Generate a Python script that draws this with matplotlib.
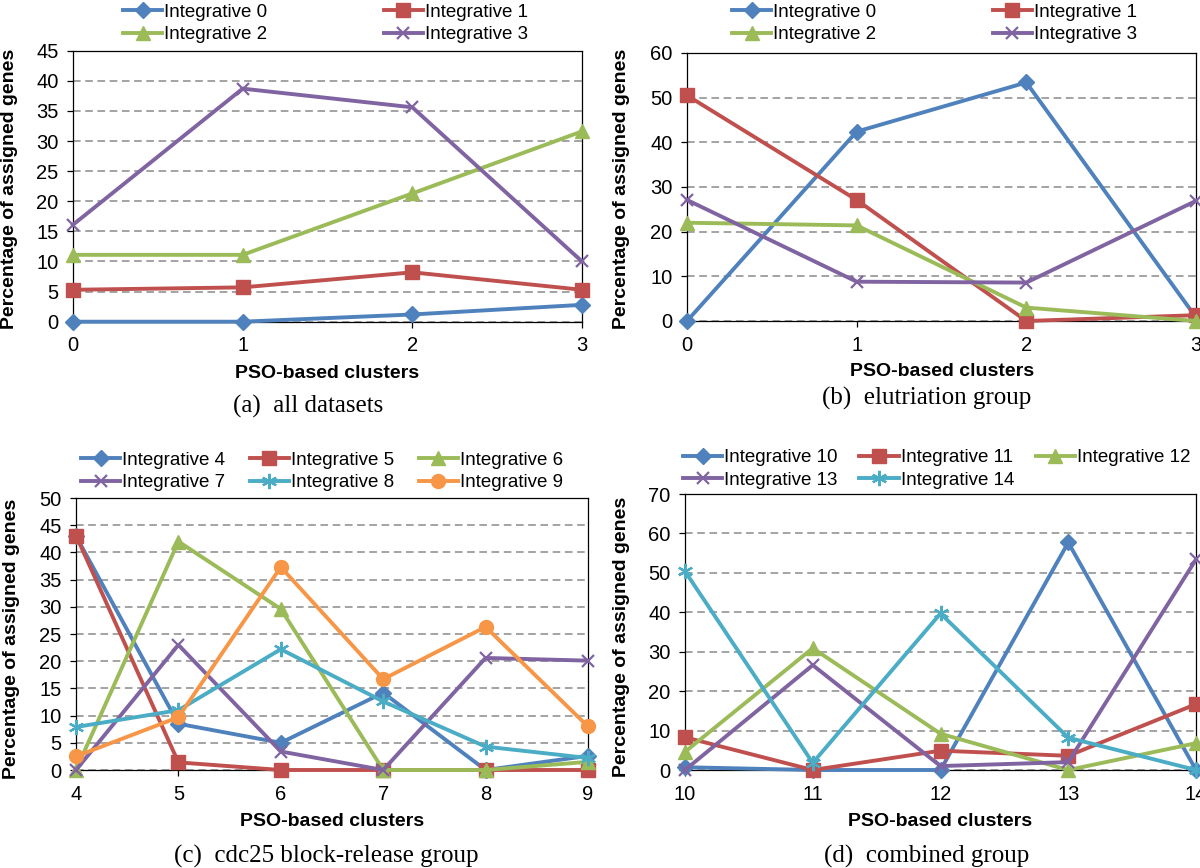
import matplotlib
matplotlib.use('Agg')
import matplotlib.pyplot as plt

W, H = 1200, 868

BLUE = '#4F81BD'
RED = '#C0504D'
GREEN = '#9BBB59'
PURPLE = '#8064A2'
AQUA = '#4BACC6'
ORANGE = '#F79646'

# (a) all datasets
a_clusters = [0, 1, 2, 3]
a_labels = ['Integrative 0', 'Integrative 1', 'Integrative 2', 'Integrative 3']
a_int0 = [0.0, 0.0, 1.2, 2.8]
a_int1 = [5.3, 5.7, 8.2, 5.3]
a_int2 = [11.1, 11.1, 21.3, 31.6]
a_int3 = [16.1, 38.7, 35.6, 10.0]

# (b) elutriation group
b_clusters = [0, 1, 2, 3]
b_labels = ['Integrative 0', 'Integrative 1', 'Integrative 2', 'Integrative 3']
b_int0 = [0.0, 42.4, 53.4, 0.8]
b_int1 = [50.5, 27.1, 0.0, 1.3]
b_int2 = [22.0, 21.4, 3.0, 0.0]
b_int3 = [27.1, 8.8, 8.6, 26.9]

# (c) cdc25 block-release group
c_clusters = [4, 5, 6, 7, 8, 9]
c_labels = ['Integrative 4', 'Integrative 5', 'Integrative 6',
            'Integrative 7', 'Integrative 8', 'Integrative 9']
c_int4 = [43.0, 8.5, 5.0, 14.2, 0.0, 2.6]
c_int5 = [43.1, 1.4, 0.0, 0.0, 0.0, 0.0]
c_int6 = [0.0, 42.0, 29.6, 0.0, 0.0, 1.5]
c_int7 = [0.0, 23.0, 3.4, 0.0, 20.6, 20.1]
c_int8 = [7.9, 11.0, 22.2, 12.6, 4.3, 2.2]
c_int9 = [2.5, 9.7, 37.3, 16.7, 26.3, 8.0]

# (d) combined group
d_clusters = [10, 11, 12, 13, 14]
d_labels = ['Integrative 10', 'Integrative 11', 'Integrative 12',
            'Integrative 13', 'Integrative 14']
d_int10 = [0.7, 0.0, 0.0, 57.7, 0.0]
d_int11 = [8.3, 0.0, 4.9, 3.6, 16.7]
d_int12 = [4.6, 30.9, 9.2, 0.0, 6.8]
d_int13 = [0.0, 26.6, 1.0, 2.0, 53.4]
d_int14 = [50.4, 1.8, 39.7, 8.2, 0.0]

STYLES = [
    dict(color=BLUE, marker='D', markersize=8),
    dict(color=RED, marker='s', markersize=10),
    dict(color=GREEN, marker='^', markersize=10.5),
    dict(color=PURPLE, marker='x', markersize=9, markeredgewidth=1.6),
    dict(color=AQUA, marker=(6, 2, 0), markersize=11, markeredgewidth=1.6),
    dict(color=ORANGE, marker='o', markersize=10),
]

plt.rcParams['font.family'] = ['Liberation Sans', 'DejaVu Sans']

fig = plt.figure(figsize=(W / 100, H / 100), dpi=100)


def px_axes(x0, x1, y0, y1):
    return fig.add_axes([x0 / W, 1 - y1 / H, (x1 - x0) / W, (y1 - y0) / H])


def px_text(x, y, s, **kw):
    fig.text(x / W, 1 - y / H, s, ha='center', va='center', **kw)


def row_major(items, ncol):
    # matplotlib fills legend columns first; reorder so entries read across rows
    n = len(items)
    nrows = -(-n // ncol)
    return [items[r * ncol + c] for c in range(ncol) for r in range(nrows)
            if r * ncol + c < n]


def draw_panel(box, clusters, series, labels, ymax, ystep, legend_pos,
               ncol, colspace, xlab_pos, ylab_pos, cap_pos, caption):
    ax = px_axes(*box)
    handles = []
    for vals, st in zip(series, STYLES):
        ln, = ax.plot(clusters, vals, linewidth=2.8, clip_on=False, zorder=3, **st)
        handles.append(ln)
    ax.set_xlim(clusters[0], clusters[-1])
    ax.set_ylim(0, ymax)
    ax.set_xticks(clusters)
    ax.set_yticks(range(0, ymax + 1, ystep))
    ax.yaxis.grid(True, linestyle=(0, (5, 3)), color='#8a8a8a', linewidth=1.1)
    ax.set_axisbelow(True)
    for sp in ax.spines.values():
        sp.set_linewidth(0.9)
        sp.set_color('black')
        sp.set_zorder(2.5)
    ax.tick_params(axis='both', direction='out', length=4.5, width=0.9,
                   labelsize=14.5)
    ax.tick_params(axis='x', pad=6)
    ax.tick_params(axis='y', pad=6)

    fig.legend(row_major(handles, ncol), row_major(labels, ncol), ncol=ncol,
               loc='center left',
               bbox_to_anchor=(legend_pos[0] / W, 1 - legend_pos[1] / H),
               frameon=False, fontsize=13.5, handlelength=2.1, handletextpad=0.1,
               columnspacing=colspace, labelspacing=0.3, borderpad=0,
               borderaxespad=0)

    px_text(*xlab_pos, 'PSO-based clusters', fontsize=14, fontweight='bold')
    px_text(*ylab_pos, 'Percentage of assigned genes', fontsize=14,
            fontweight='bold', rotation=90)
    px_text(*cap_pos, caption, fontsize=18,
            family=['Liberation Serif', 'DejaVu Serif'])
    return ax


draw_panel((73, 582, 50.7, 321.7), a_clusters, [a_int0, a_int1, a_int2, a_int3],
           a_labels, 45, 5, (123, 23.4), 2, 6.2, (327, 373), (10, 189),
           (308, 406), '(a)  all datasets')

draw_panel((687, 1196, 53, 321), b_clusters, [b_int0, b_int1, b_int2, b_int3],
           b_labels, 60, 10, (732, 23.4), 2, 6.2, (942, 372), (621, 189),
           (927, 398), '(b)  elutriation group')

draw_panel((76, 588, 498, 770), c_clusters,
           [c_int4, c_int5, c_int6, c_int7, c_int8, c_int9],
           c_labels, 50, 5, (81, 471.5), 3, 1.3, (332, 822), (12, 639),
           (326, 856), '(c)  cdc25 block-release group')

draw_panel((685, 1196, 494, 770), d_clusters,
           [d_int10, d_int11, d_int12, d_int13, d_int14],
           d_labels, 70, 10, (683, 469), 3, 1.15, (940, 822), (621, 637),
           (927, 856), '(d)  combined group')

fig.savefig('out.png', dpi=100)
